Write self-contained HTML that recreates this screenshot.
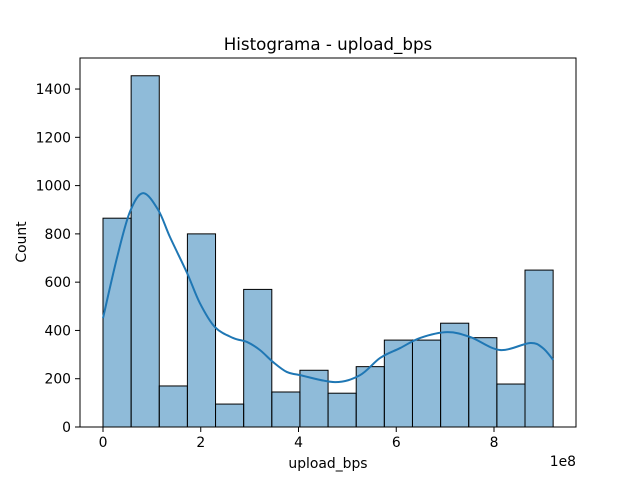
<!DOCTYPE html>
<html><head><meta charset="utf-8"><style>
body{margin:0;background:#fff;}
text{font-family:"DejaVu Sans","Liberation Sans",sans-serif;fill:#000;}
</style></head><body>
<svg id="chart" width="640" height="480" xmlns="http://www.w3.org/2000/svg">
<rect width="640" height="480" fill="#fff"/>
<text x="328" y="50" text-anchor="middle" font-size="16.7">Histograma - upload_bps</text>
<g id="bars"></g>
<path id="kde" fill="none" stroke="#1f77b4" stroke-width="2"/>
<rect x="80" y="58" width="496" height="369" fill="none" stroke="#000" stroke-width="1"/>
<g id="xticks"></g><g id="yticks"></g>
<text x="328" y="468" text-anchor="middle" font-size="13.9">upload_bps</text>
<text transform="translate(26,242) rotate(-90)" text-anchor="middle" font-size="13.9">Count</text>
<text x="576" y="466" text-anchor="end" font-size="13.9">1e8</text>
</svg>
<script>
const binCounts=[865,1455,170,800,95,570,145,235,140,250,360,360,430,370,178,650];
const binStart=0, binEnd=9.21;
const kdeX=[0,0.29,0.55,0.82,1.13,1.37,1.72,1.98,2.29,2.66,2.95,3.21,3.48,3.76,4.03,4.75,5.26,5.67,6.08,6.49,7.04,7.51,8.12,8.74,9.0,9.21];
const kdeY=[451,704,891,969,899,787,638,514,414,369,352,319,269,228,215,186,215,286,327,369,393,373,319,348,327,278];
const xTicks=[0,2,4,6,8];
const yTicks=[0,200,400,600,800,1000,1200,1400];
const NS="http://www.w3.org/2000/svg";
const X=v=>103+v*48.875, Y=v=>427-v*0.2414;
const bw=(binEnd-binStart)/binCounts.length;
const bg=document.getElementById('bars');
binCounts.forEach((c,i)=>{
 const r=document.createElementNS(NS,'rect');
 const x0=X(binStart+i*bw),x1=X(binStart+(i+1)*bw);
 r.setAttribute('x',x0);r.setAttribute('y',Y(c));r.setAttribute('width',x1-x0);r.setAttribute('height',Y(0)-Y(c));
 r.setAttribute('fill','rgba(31,119,180,0.5)');r.setAttribute('stroke','#000');r.setAttribute('stroke-width','1');
 
 
 bg.appendChild(r);
});
const pts=kdeX.map((x,i)=>[X(x),Y(kdeY[i])]);
let d='M'+pts[0][0]+','+pts[0][1];
for(let i=0;i<pts.length-1;i++){
 const p0=pts[i-1]||pts[i],p1=pts[i],p2=pts[i+1],p3=pts[i+2]||p2;
 d+=` C${p1[0]+(p2[0]-p0[0])/6},${p1[1]+(p2[1]-p0[1])/6} ${p2[0]-(p3[0]-p1[0])/6},${p2[1]-(p3[1]-p1[1])/6} ${p2[0]},${p2[1]}`;
}
document.getElementById('kde').setAttribute('d',d);
const xg=document.getElementById('xticks');
xTicks.forEach(t=>{
 const l=document.createElementNS(NS,'line');
 l.setAttribute('x1',X(t));l.setAttribute('x2',X(t));l.setAttribute('y1',427);l.setAttribute('y2',432);l.setAttribute('stroke','#000');
 
 
 xg.appendChild(l);
 const s=document.createElementNS(NS,'text');
 s.setAttribute('x',X(t));s.setAttribute('y',447);s.setAttribute('text-anchor','middle');s.setAttribute('font-size','13.9');s.textContent=t;
 
 
 xg.appendChild(s);
});
const yg=document.getElementById('yticks');
yTicks.forEach(t=>{
 const l=document.createElementNS(NS,'line');
 l.setAttribute('x1',75);l.setAttribute('x2',80);l.setAttribute('y1',Y(t));l.setAttribute('y2',Y(t));l.setAttribute('stroke','#000');
 
 
 yg.appendChild(l);
 const s=document.createElementNS(NS,'text');
 s.setAttribute('x',71);s.setAttribute('y',Y(t)+5);s.setAttribute('text-anchor','end');s.setAttribute('font-size','13.9');s.textContent=t;
 
 
 yg.appendChild(s);
});
</script>
</body></html>
